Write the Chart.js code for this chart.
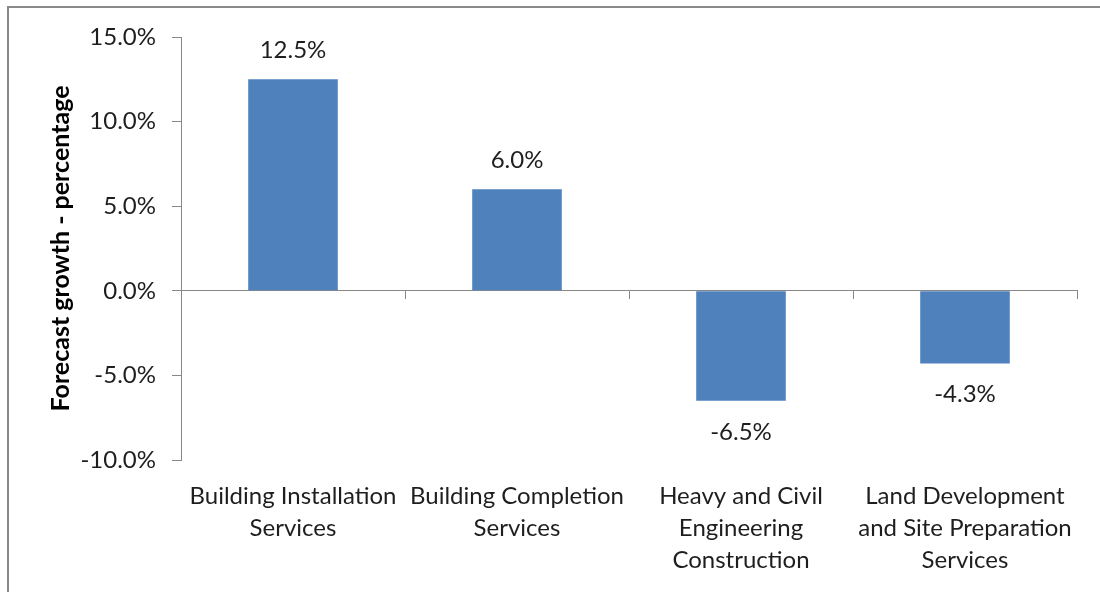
<!DOCTYPE html>
<html>
<head>
<meta charset="utf-8">
<script src="https://cdn.jsdelivr.net/npm/chart.js@4.4.1/dist/chart.umd.min.js"></script>
<style>
  html, body { margin: 0; padding: 0; background: #fff; }
  #wrap { position: relative; width: 1100px; height: 592px; overflow: hidden; }
  #frame { position: absolute; left: 7px; top: 6px; width: 1200px; height: 700px; border: 2px solid #898989; box-sizing: border-box; pointer-events: none; }
  canvas { position: absolute; left: 0; top: 0; }
</style>
</head>
<body>
<div id="wrap">
  <canvas id="c" width="1100" height="592"></canvas>
  <div id="frame"></div>
</div>
<script>
const categories = [
  ["Building Installation", "Services"],
  ["Building Completion", "Services"],
  ["Heavy and Civil", "Engineering", "Construction"],
  ["Land Development", "and Site Preparation", "Services"]
];
const growth = [12.5, 6.0, -6.5, -4.3];
const yTicks = [-10, -5, 0, 5, 10, 15];
const axisTitle = "Forecast growth - percentage";

const FONT = "Lato, 'Open Sans', sans-serif";
const TEXT = "#1e1e1e";
const AXIS = "#888888";

const labelPlugin = {
  id: "barLabels",
  afterDatasetsDraw(chart) {
    const ctx = chart.ctx;
    const meta = chart.getDatasetMeta(0);
    const yScale = chart.scales.y;
    ctx.save();
    ctx.font = "24px " + FONT;
    ctx.fillStyle = TEXT;
    ctx.textAlign = "center";
    ctx.textBaseline = "middle";
    meta.data.forEach((bar, i) => {
      const v = growth[i];
      const end = yScale.getPixelForValue(v);
      const y = v >= 0 ? end - 29 : end + 31;
      ctx.fillText(v.toFixed(1) + "%", bar.x, y);
    });
    ctx.restore();
  }
};

new Chart(document.getElementById("c"), {
  type: "bar",
  data: {
    labels: categories,
    datasets: [{
      data: growth,
      backgroundColor: "#4F81BD",
      borderWidth: 0,
      categoryPercentage: 1.0,
      barPercentage: 0.4
    }]
  },
  options: {
    responsive: false,
    animation: false,
    layout: { padding: { top: 37, right: 23, left: 0, bottom: 0 } },
    plugins: { legend: { display: false }, tooltip: { enabled: false } },
    scales: {
      x: {
        position: "bottom",
        grid: { display: false },
        border: { display: false },
        ticks: {
          font: { family: FONT, size: 24, lineHeight: 1.33 },
          color: TEXT,
          padding: 12,
          maxRotation: 0,
          autoSkip: false
        },
        afterFit(s) { s.height = 132; }
      },
      x0: {
        type: "category",
        position: { y: 0 },
        offset: true,
        grid: { display: true, drawOnChartArea: false, drawTicks: true, tickLength: 8, color: AXIS, offset: true, lineWidth: 1 },
        border: { display: true, color: AXIS, width: 1 },
        ticks: { display: false }
      },
      y: {
        min: -10,
        max: 15,
        afterBuildTicks(s) { s.ticks = yTicks.map(v => ({ value: v })); },
        grid: { drawOnChartArea: false, drawTicks: true, tickLength: 9, color: AXIS },
        border: { color: AXIS },
        ticks: {
          font: { family: FONT, size: 24 },
          color: TEXT,
          padding: 16,
          callback: v => v.toFixed(1) + "%"
        },
        title: {
          display: true,
          text: axisTitle,
          font: { family: FONT, size: 25, weight: "bold" },
          color: "#000",
          padding: { top: 46, bottom: 0 }
        },
        afterFit(s) { s.width = 181; }
      }
    }
  },
  plugins: [labelPlugin]
});
</script>
</body>
</html>
